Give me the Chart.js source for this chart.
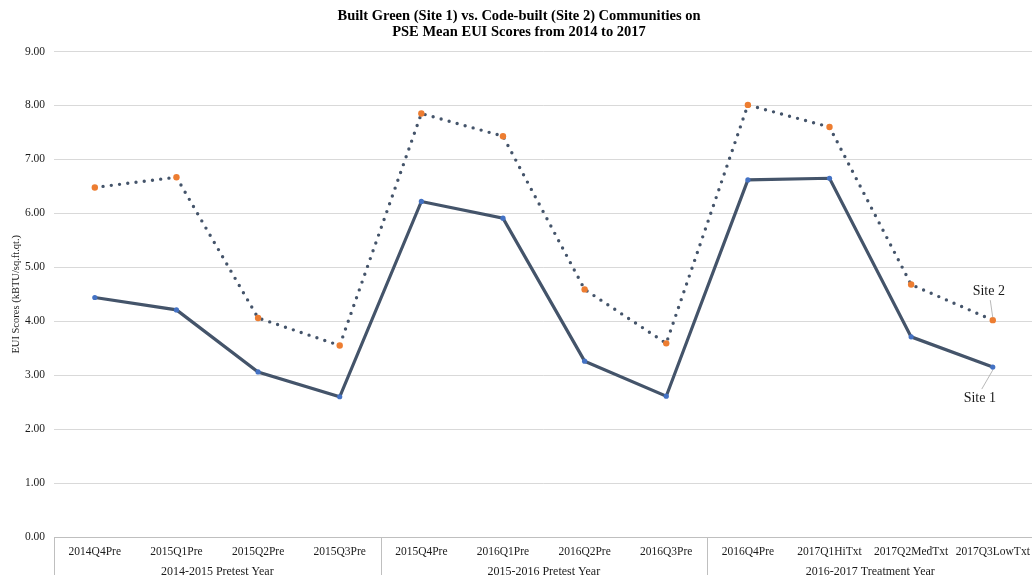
<!DOCTYPE html>
<html>
<head>
<meta charset="utf-8">
<title>PSE Mean EUI Scores 2014-2017</title>
<script src="https://cdn.jsdelivr.net/npm/chart.js@4.4.1/dist/chart.umd.min.js"></script>
<style>
  html, body { margin: 0; padding: 0; background: #ffffff; overflow: hidden; }
  #wrap { position: relative; width: 1038px; height: 575px; }
</style>
</head>
<body>
<div id="wrap"><canvas id="chart" width="1038" height="575"></canvas></div>
<script>
// Quarterly categories along the x axis
const quarters = [
  '2014Q4Pre', '2015Q1Pre', '2015Q2Pre', '2015Q3Pre',
  '2015Q4Pre', '2016Q1Pre', '2016Q2Pre', '2016Q3Pre',
  '2016Q4Pre', '2017Q1HiTxt', '2017Q2MedTxt', '2017Q3LowTxt'
];

// Year groupings shown beneath the quarter labels
const yearGroups = ['2014-2015 Pretest Year', '2015-2016 Pretest Year', '2016-2017 Treatment Year'];
const groupSizes = [4, 4, 4];

// Mean EUI scores (kBTU/sq.ft.qt.)
const site1 = [4.44, 4.21, 3.06, 2.60, 6.22, 5.91, 3.26, 2.61, 6.62, 6.65, 3.71, 3.15];
const site2 = [6.48, 6.67, 4.06, 3.55, 7.85, 7.43, 4.59, 3.59, 8.01, 7.60, 4.68, 4.02];

// Y axis range and tick step
const yMin = 0;
const yMax = 9;
const yStep = 1;

const SERIF = '"Liberation Serif", "Times New Roman", serif';
const TEXT = '#1a1a1a';
const LINE = '#44546A';
const RULE = '#bfbfbf';

// Year-group dividers and labels below the category axis,
// plus the series call-outs next to the last points.
const extrasPlugin = {
  id: 'extras',
  afterDraw(chart) {
    const ctx = chart.ctx;
    const x = chart.scales.x;
    const area = chart.chartArea;
    const half = (x.getPixelForValue(1) - x.getPixelForValue(0)) / 2;
    const bottom = chart.height;

    ctx.save();
    ctx.strokeStyle = RULE;
    ctx.lineWidth = 1;
    let start = 0;
    const edges = [];
    groupSizes.forEach((n, g) => {
      const left = x.getPixelForValue(start) - half;
      const right = x.getPixelForValue(start + n - 1) + half;
      edges.push(left, right);
      ctx.fillStyle = TEXT;
      ctx.font = '12px ' + SERIF;
      ctx.textAlign = 'center';
      ctx.textBaseline = 'middle';
      ctx.fillText(yearGroups[g], (left + right) / 2, area.bottom + 34.5);
      start += n;
    });
    [...new Set(edges.map(e => Math.round(e) + 0.5))].forEach(px => {
      ctx.beginPath();
      ctx.moveTo(px, area.bottom);
      ctx.lineTo(px, bottom);
      ctx.stroke();
    });

    // Series call-outs
    const last = quarters.length - 1;
    const px = x.getPixelForValue(last);
    const y = chart.scales.y;
    const p1 = y.getPixelForValue(site1[last]);
    const p2 = y.getPixelForValue(site2[last]);
    ctx.strokeStyle = '#a6a6a6';
    ctx.lineWidth = 0.8;
    ctx.beginPath();
    ctx.moveTo(px - 2.5, p2 - 20);
    ctx.lineTo(px, p2 - 2.5);
    ctx.moveTo(px - 11, p1 + 22);
    ctx.lineTo(px, p1 + 3);
    ctx.stroke();
    ctx.fillStyle = TEXT;
    ctx.font = '14px ' + SERIF;
    ctx.textAlign = 'center';
    ctx.textBaseline = 'middle';
    ctx.fillText('Site 2', px - 4, p2 - 29);
    ctx.fillText('Site 1', px - 13, p1 + 31);
    ctx.restore();
  }
};

new Chart(document.getElementById('chart'), {
  type: 'line',
  data: {
    labels: quarters,
    datasets: [
      {
        label: 'Site 2',
        data: site2,
        borderColor: LINE,
        borderWidth: 3.4,
        borderDash: [0, 8.3],
        borderCapStyle: 'round',
        pointRadius: 3.2,
        pointBorderWidth: 0,
        pointBackgroundColor: '#ED7D31',
        pointBorderColor: '#ED7D31',
        tension: 0,
        fill: false
      },
      {
        label: 'Site 1',
        data: site1,
        borderColor: LINE,
        borderWidth: 3.2,
        pointRadius: 2.6,
        pointBorderWidth: 0,
        pointBackgroundColor: '#4472C4',
        pointBorderColor: '#4472C4',
        tension: 0,
        fill: false
      }
    ]
  },
  options: {
    responsive: false,
    animation: false,
    devicePixelRatio: 1,
    layout: { padding: { left: 0, right: 0, top: 0, bottom: 8.2 } },
    plugins: {
      legend: { display: false },
      tooltip: { enabled: false },
      title: {
        display: true,
        text: [
          'Built Green (Site 1) vs. Code-built (Site 2) Communities on',
          'PSE Mean EUI Scores from 2014 to 2017'
        ],
        color: '#000000',
        font: { family: SERIF, size: 14.5, weight: 'bold', lineHeight: 1.1 },
        padding: { top: 8, bottom: 11.6 }
      }
    },
    scales: {
      x: {
        type: 'category',
        offset: true,
        grid: { display: false, drawTicks: false },
        border: { display: true, color: RULE, width: 1 },
        ticks: {
          autoSkip: false,
          maxRotation: 0,
          minRotation: 0,
          padding: 8,
          color: TEXT,
          font: { family: SERIF, size: 11.5 }
        }
      },
      y: {
        min: yMin,
        max: yMax,
        afterFit(scale) { scale.width = 54; },
        grid: { color: '#d9d9d9', lineWidth: 1, drawTicks: false },
        border: { display: false },
        ticks: {
          stepSize: yStep,
          padding: 9,
          color: TEXT,
          font: { family: SERIF, size: 11.5 },
          callback: v => Number(v).toFixed(2)
        },
        title: {
          display: true,
          text: 'EUI Scores (kBTU/sq.ft.qt.)',
          color: TEXT,
          font: { family: SERIF, size: 10.5 },
          padding: { top: 10, bottom: 0 }
        }
      }
    }
  },
  plugins: [extrasPlugin]
});
</script>
</body>
</html>
